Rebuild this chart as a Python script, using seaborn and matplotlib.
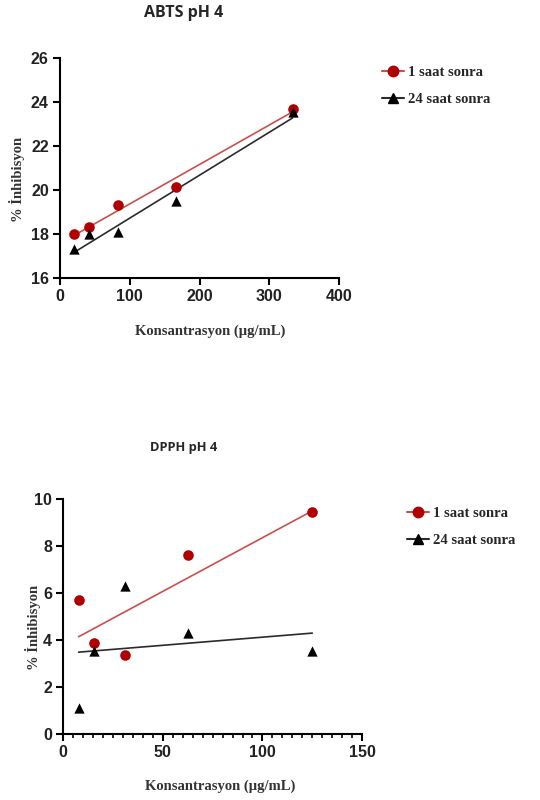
# ABTS / DPPH pH 4 - inhibisyon vs konsantrasyon

import numpy as np
import pandas as pd
import seaborn as sns
import matplotlib.pyplot as plt
from matplotlib.lines import Line2D
from matplotlib.ticker import MultipleLocator

# ---------- data ----------
abts_conc = [20.8, 41.7, 83.3, 166.7, 333.3]
abts_1h = [18.0, 18.3, 19.3, 20.15, 23.7]
abts_24h = [17.3, 18.0, 18.1, 19.5, 23.55]

dpph_conc = [7.8, 15.6, 31.25, 62.5, 125.0]
dpph_1h = [5.7, 3.85, 3.35, 7.6, 9.45]
dpph_24h = [1.1, 3.55, 6.3, 4.3, 3.55]

series_labels = ["1 saat sonra", "24 saat sonra"]

RED_LINE = "#c8504d"
RED_MARK = "#b00000"
BLACK_LINE = "#2b2b2b"

sns.set_style("ticks")

tick_font = dict(family=["Liberation Sans Narrow", "Liberation Sans", "DejaVu Sans"],
                 weight="bold", size=11.5)
serif_font = dict(family=["Liberation Serif", "DejaVu Serif"], weight="bold", size=10.5)
title_family = ["Open Sans", "DejaVu Sans"]

fig = plt.figure(figsize=(5.4, 8), dpi=100)


def draw_panel(ax, conc, y1, y24, xlim, ylim, xmaj, ymaj, xminor=None):
    df = pd.DataFrame({"x": conc, "y1": y1, "y24": y24})
    sns.regplot(data=df, x="x", y="y1", ax=ax, ci=None, truncate=True,
                marker="o", color=RED_LINE,
                scatter_kws=dict(s=58, color=RED_MARK, alpha=1, zorder=4,
                                 clip_on=False, linewidths=0),
                line_kws=dict(lw=1.2, color=RED_LINE, zorder=3))
    sns.regplot(data=df, x="x", y="y24", ax=ax, ci=None, truncate=True,
                marker="^", color=BLACK_LINE,
                scatter_kws=dict(s=55, color="black", alpha=1, zorder=4,
                                 clip_on=False, linewidths=0),
                line_kws=dict(lw=1.2, color=BLACK_LINE, zorder=3))
    ax.set_xlim(*xlim)
    ax.set_ylim(*ylim)
    ax.xaxis.set_major_locator(MultipleLocator(xmaj))
    ax.yaxis.set_major_locator(MultipleLocator(ymaj))
    if xminor:
        ax.xaxis.set_minor_locator(MultipleLocator(xminor))
    sns.despine(ax=ax)
    for s in ["left", "bottom"]:
        ax.spines[s].set_linewidth(1.5)
        ax.spines[s].set_color("black")
    ax.tick_params(which="major", length=5, width=1.5, color="black", pad=3)
    ax.tick_params(which="minor", length=3, width=1.2, color="black")
    for lab in ax.get_xticklabels() + ax.get_yticklabels():
        lab.set_fontproperties(tick_font)
        lab.set_color("#222222")
    ax.set_xlabel("Konsantrasyon (µg/mL)", **serif_font, color="#333333")
    ax.set_ylabel("% İnhibisyon", **serif_font, color="#333333")


def add_legend(x0, y0):
    handles = [
        Line2D([], [], color=RED_LINE, lw=1.5, marker="o", markersize=7.5,
               markerfacecolor=RED_MARK, markeredgecolor=RED_MARK),
        Line2D([], [], color=BLACK_LINE, lw=1.5, marker="^", markersize=7,
               markerfacecolor="black", markeredgecolor="black"),
    ]
    fig.legend(handles, series_labels, loc="upper left", bbox_to_anchor=(x0, y0),
               frameon=False, handlelength=1.5, handletextpad=0.3, labelspacing=0.95,
               borderpad=0, borderaxespad=0, prop=serif_font)


# ---------- ABTS ----------
ax1 = fig.add_axes([0.111, 0.6525, 0.517, 0.275])
draw_panel(ax1, abts_conc, abts_1h, abts_24h, (0, 400), (16, 26), 100, 2)
ax1.xaxis.set_label_coords(0.538, -0.21)
ax1.yaxis.set_label_coords(-0.125, 0.45)
fig.text(0.34, 0.984, "ABTS pH 4", ha="center", va="center",
         family=title_family, weight="bold", size=11.5)

add_legend(0.707, 0.918)

# ---------- DPPH ----------
ax2 = fig.add_axes([0.1167, 0.0825, 0.554, 0.294])
draw_panel(ax2, dpph_conc, dpph_1h, dpph_24h, (0, 150), (0, 10), 50, 2, xminor=5)
ax2.xaxis.set_label_coords(0.525, -0.195)
ax2.yaxis.set_label_coords(-0.075, 0.455)
fig.text(0.34, 0.44, "DPPH pH 4", ha="center", va="center",
         family=title_family, weight="bold", size=9.3)
add_legend(0.754, 0.367)

fig.savefig("out.png", dpi=100)
